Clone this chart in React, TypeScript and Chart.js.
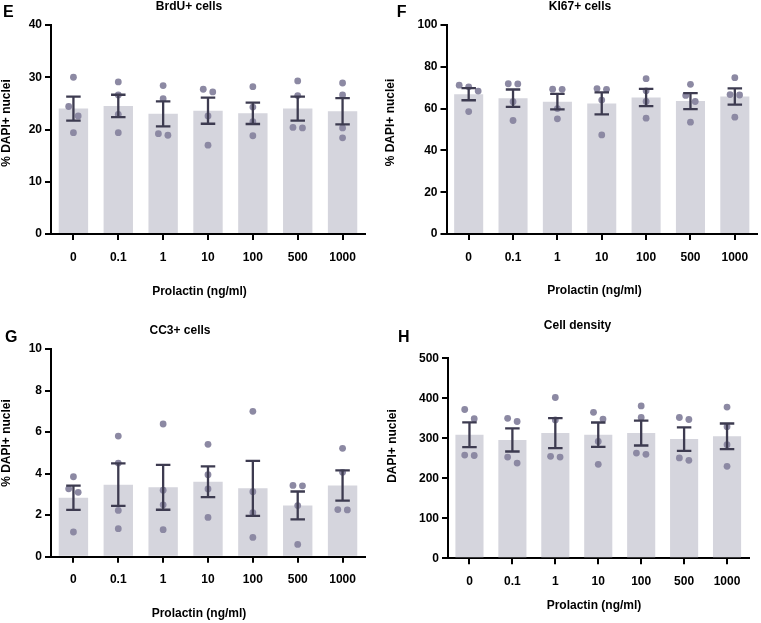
import React, { useEffect, useRef } from 'react';
import { Chart, registerables } from 'chart.js';

Chart.register(...registerables);

// ---------------- data ----------------
const doses = ['0', '0.1', '1', '10', '100', '500', '1000'];
const xAxisTitle = 'Prolactin (ng/ml)';

const brduMean = [24.0, 24.5, 23.0, 23.6, 23.1, 24.0, 23.5];
const brduSem = [2.3, 2.15, 2.4, 2.5, 2.05, 2.3, 2.5];
const brduPoints = [
  [30.0, 24.4, 22.6, 19.4],
  [29.1, 26.6, 22.9, 19.4],
  [28.4, 25.9, 19.2, 18.9],
  [27.7, 27.2, 22.6, 17.0],
  [28.2, 24.3, 21.5, 18.8],
  [29.3, 26.5, 20.4, 20.3],
  [28.9, 26.6, 20.3, 18.4],
];
const brduTicks = [0, 10, 20, 30, 40];

const ki67Mean = [66.9, 65.0, 63.3, 62.5, 65.3, 63.6, 65.8];
const ki67Sem = [2.9, 4.15, 3.7, 5.3, 4.1, 3.85, 3.9];
const ki67Points = [
  [71.2, 70.4, 68.4, 58.6],
  [71.9, 71.8, 63.3, 54.3],
  [69.3, 69.2, 60.0, 55.1],
  [69.6, 69.2, 64.1, 47.4],
  [74.3, 68.5, 63.4, 55.4],
  [71.6, 66.3, 63.4, 53.5],
  [74.8, 66.7, 66.5, 55.9],
];
const ki67Ticks = [0, 20, 40, 60, 80, 100];

const cc3Mean = [2.84, 3.47, 3.34, 3.61, 3.29, 2.47, 3.43];
const cc3Sem = [0.585, 1.025, 1.08, 0.74, 1.32, 0.67, 0.73];
const cc3Points = [
  [3.85, 3.27, 3.1, 1.19],
  [5.81, 4.51, 2.23, 1.35],
  [6.39, 3.2, 2.5, 1.3],
  [5.41, 3.95, 3.26, 1.89],
  [7.0, 3.13, 2.12, 0.93],
  [3.43, 3.41, 2.46, 0.59],
  [5.22, 4.06, 2.27, 2.25],
];
const cc3Ticks = [0, 2, 4, 6, 8, 10];

const densityMean = [309, 296, 313, 309, 313, 298, 305];
const densitySem = [31, 29, 37.5, 30.5, 31, 29.5, 32];
const densityPoints = [
  [372, 349, 258, 257],
  [350, 342, 253, 238],
  [402, 346, 255, 253],
  [365, 348, 292, 235],
  [381, 352, 263, 260],
  [352, 347, 251, 245],
  [378, 329, 284, 230],
];
const densityTicks = [0, 100, 200, 300, 400, 500];

// ---------------- styles ----------------
const FONT = "'Liberation Sans', Arial, Helvetica, sans-serif";
const BAR_COLOR = '#d5d5dd';
const DOT_COLOR = '#8c89a3';
const ERR_COLOR = '#3d3b50';
const AXIS_COLOR = '#000000';
const ROW_THRESHOLD_PX = 9.6;
const DOT_SPACING_PX = 9.5;

type TextItem = { text: string; x: number; y: number; size: number; align?: CanvasTextAlign; rotate?: boolean };

interface PanelCfg {
  letter: string;
  title: string;
  yTitle: string;
  mean: number[];
  sem: number[];
  points: number[][];
  ticks: number[];
  box: { left: number; top: number; width: number; height: number };
  padding: { left: number; top: number; right: number; bottom: number };
  yWidth: number;
  xHeight: number;
  letterPos: [number, number];
  titlePos: [number, number];
  xTitlePos: [number, number];
  yTitlePos: [number, number];
}

const panels: PanelCfg[] = [
  {
    letter: 'E', title: 'BrdU+ cells', yTitle: '% DAPI+ nuclei',
    mean: brduMean, sem: brduSem, points: brduPoints, ticks: brduTicks,
    box: { left: 0, top: 0, width: 380, height: 311 },
    padding: { left: 0, top: 25, right: 15, bottom: 0 },
    yWidth: 51, xHeight: 77,
    letterPos: [3, 12.5], titlePos: [189, 7], xTitlePos: [199.5, 291.5], yTitlePos: [6.5, 123],
  },
  {
    letter: 'F', title: 'KI67+ cells', yTitle: '% DAPI+ nuclei',
    mean: ki67Mean, sem: ki67Sem, points: ki67Points, ticks: ki67Ticks,
    box: { left: 380, top: 0, width: 381, height: 311 },
    padding: { left: 0, top: 25, right: 3, bottom: 0 },
    yWidth: 66.5, xHeight: 77,
    letterPos: [16.7, 12.5], titlePos: [200, 7], xTitlePos: [214.5, 291], yTitlePos: [11, 122.5],
  },
  {
    letter: 'G', title: 'CC3+ cells', yTitle: '% DAPI+ nuclei',
    mean: cc3Mean, sem: cc3Sem, points: cc3Points, ticks: cc3Ticks,
    box: { left: 0, top: 311, width: 380, height: 312 },
    padding: { left: 0, top: 38, right: 15, bottom: 0 },
    yWidth: 51, xHeight: 66.3,
    letterPos: [5, 26.5], titlePos: [180, 19.5], xTitlePos: [199, 303], yTitlePos: [6.7, 132],
  },
  {
    letter: 'H', title: 'Cell density', yTitle: 'DAPI+ nuclei',
    mean: densityMean, sem: densitySem, points: densityPoints, ticks: densityTicks,
    box: { left: 380, top: 311, width: 381, height: 312 },
    padding: { left: 0, top: 47.3, right: 12.5, bottom: 0 },
    yWidth: 68, xHeight: 64.7,
    letterPos: [18, 26.5], titlePos: [197.5, 14.5], xTitlePos: [214, 295], yTitlePos: [13, 135],
  },
];

// ---------------- helpers ----------------
function swarmPx(values: number[], pxPerUnit: number): number[] {
  const order = values.map((_, i) => i).sort((a, b) => values[b] - values[a]);
  const offsets = new Array(values.length).fill(0);
  let row: number[] = [];
  const flush = () => {
    row.forEach((j, k) => {
      offsets[j] = (k - (row.length - 1) / 2) * DOT_SPACING_PX;
    });
    row = [];
  };
  order.forEach((j) => {
    if (row.length && (values[row[row.length - 1]] - values[j]) * pxPerUnit > ROW_THRESHOLD_PX) flush();
    row.push(j);
  });
  flush();
  return offsets;
}

const errorBarPlugin = {
  id: 'errorBars',
  afterDatasetsDraw(chart: any, _args: any, opts: any) {
    const meta = chart.getDatasetMeta(0);
    const ys = chart.scales.y;
    const means: number[] = chart.data.datasets[0].data;
    const sems: number[] = opts.sem || [];
    const ctx = chart.ctx;
    ctx.save();
    ctx.strokeStyle = opts.color;
    ctx.lineWidth = opts.lineWidth;
    const hw = opts.capWidth / 2;
    meta.data.forEach((bar: any, i: number) => {
      const m = means[i];
      const s = sems[i];
      const yt = ys.getPixelForValue(m + s);
      const yb = ys.getPixelForValue(m - s);
      const x = bar.x;
      ctx.beginPath();
      ctx.moveTo(x, yt);
      ctx.lineTo(x, yb);
      ctx.moveTo(x - hw, yt);
      ctx.lineTo(x + hw, yt);
      ctx.moveTo(x - hw, yb);
      ctx.lineTo(x + hw, yb);
      ctx.stroke();
    });
    ctx.restore();
  },
};

const textPlugin = {
  id: 'panelText',
  afterDraw(chart: any, _args: any, opts: any) {
    const ctx = chart.ctx;
    const items: TextItem[] = opts.items || [];
    items.forEach((t) => {
      ctx.save();
      ctx.font = `bold ${t.size}px ${FONT}`;
      ctx.fillStyle = '#000';
      ctx.textAlign = t.align || 'center';
      ctx.textBaseline = 'middle';
      ctx.translate(t.x, t.y);
      if (t.rotate) ctx.rotate(-Math.PI / 2);
      ctx.fillText(t.text, 0, 0);
      ctx.restore();
    });
  },
};

function Panel({ cfg }: { cfg: PanelCfg }) {
  const ref = useRef<HTMLCanvasElement>(null);
  useEffect(() => {
    const tickFont = { family: FONT, size: 12, weight: 'bold' as const };
    const chart = new Chart(ref.current as HTMLCanvasElement, {
      type: 'bar',
      data: {
        labels: doses,
        datasets: [
          {
            type: 'bar',
            data: cfg.mean,
            xAxisID: 'x',
            yAxisID: 'y',
            backgroundColor: BAR_COLOR,
            borderWidth: 0,
            barPercentage: 0.655,
            categoryPercentage: 1,
            grouped: false,
            order: 2,
          } as any,
          {
            type: 'scatter',
            data: cfg.points.flatMap((g, i) => g.map((v) => ({ x: i, y: v }))),
            xAxisID: 'xs',
            yAxisID: 'y',
            backgroundColor: DOT_COLOR,
            pointRadius: 3.4,
            pointBorderWidth: 0,
            borderWidth: 0,
            showLine: false,
            order: 1,
          } as any,
        ],
      },
      options: {
        responsive: false,
        animation: false,
        layout: { padding: cfg.padding },
        plugins: {
          legend: { display: false },
          tooltip: { enabled: false },
          title: { display: false },
          errorBars: { sem: cfg.sem, color: ERR_COLOR, lineWidth: 2.3, capWidth: 14.5 },
          panelText: {
            items: [
              { text: cfg.letter, x: cfg.letterPos[0], y: cfg.letterPos[1], size: 16, align: 'left' },
              { text: cfg.title, x: cfg.titlePos[0], y: cfg.titlePos[1], size: 12 },
              { text: xAxisTitle, x: cfg.xTitlePos[0], y: cfg.xTitlePos[1], size: 12 },
              { text: cfg.yTitle, x: cfg.yTitlePos[0], y: cfg.yTitlePos[1], size: 12, rotate: true },
            ],
          },
        } as any,
        scales: {
          x: {
            type: 'category',
            offset: true,
            grid: {
              display: true,
              offset: false,
              drawOnChartArea: false,
              drawTicks: true,
              tickLength: 6,
              lineWidth: 2,
              color: AXIS_COLOR,
            },
            border: { display: true, color: AXIS_COLOR, width: 2 },
            ticks: { font: tickFont, color: '#000', padding: 10, maxRotation: 0, autoSkip: false },
            afterFit: (s: any) => {
              s.height = cfg.xHeight;
            },
          },
          xs: {
            type: 'linear',
            display: false,
            offset: false,
            bounds: 'data',
            grace: 0,
            min: -0.5,
            max: doses.length - 0.5,
            grid: { offset: false },
          },
          y: {
            type: 'linear',
            min: cfg.ticks[0],
            max: cfg.ticks[cfg.ticks.length - 1],
            afterBuildTicks: (s: any) => {
              s.ticks = cfg.ticks.map((v) => ({ value: v }));
            },
            grid: {
              display: true,
              drawOnChartArea: false,
              drawTicks: true,
              tickLength: 6,
              lineWidth: 2,
              color: AXIS_COLOR,
            },
            border: { display: true, color: AXIS_COLOR, width: 2 },
            ticks: { font: tickFont, color: '#000', padding: 3 },
            afterFit: (s: any) => {
              s.width = cfg.yWidth;
            },
          },
        } as any,
      },
      plugins: [errorBarPlugin, textPlugin],
    });

    // spread overlapping dots horizontally (beeswarm-like), via the scales
    const ys: any = chart.scales.y;
    const pxPerUnit = Math.abs(ys.getPixelForValue(1) - ys.getPixelForValue(0));
    const catW = chart.scales.x.width / doses.length;
    const pts: { x: number; y: number }[] = [];
    cfg.points.forEach((g, i) => {
      const off = swarmPx(g, pxPerUnit);
      g.forEach((v, k) => pts.push({ x: i + off[k] / catW, y: v }));
    });
    (chart.data.datasets[1] as any).data = pts;
    chart.update();

    return () => chart.destroy();
  }, [cfg]);

  return (
    <canvas
      ref={ref}
      width={cfg.box.width}
      height={cfg.box.height}
      style={{
        position: 'absolute',
        left: cfg.box.left,
        top: cfg.box.top,
        width: cfg.box.width,
        height: cfg.box.height,
      }}
    />
  );
}

export default function App() {
  return (
    <div style={{ position: 'absolute', left: 0, top: 0, width: 761, height: 623, background: '#fff' }}>
      {panels.map((p) => (
        <Panel key={p.letter} cfg={p} />
      ))}
    </div>
  );
}
